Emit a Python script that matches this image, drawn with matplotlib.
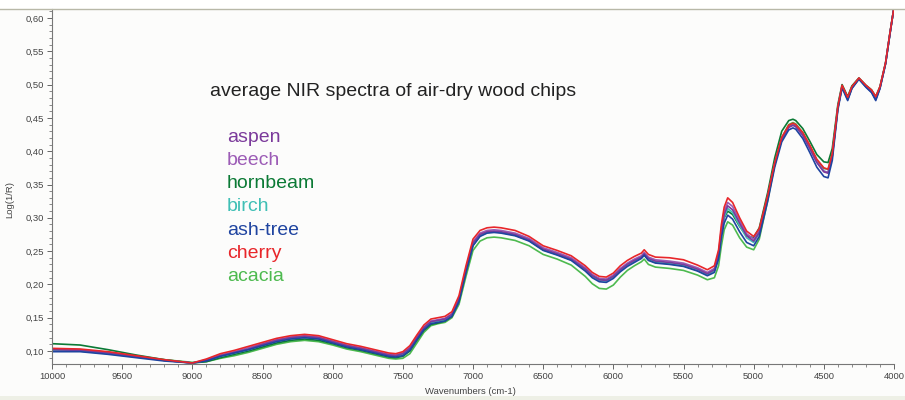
import matplotlib
matplotlib.use("Agg")
import matplotlib.pyplot as plt
from matplotlib.ticker import MultipleLocator, FuncFormatter
from matplotlib.lines import Line2D

# wavenumber grid (cm-1), shared by all spectra
wavenumbers = [10000, 9800, 9600, 9400, 9200, 9000, 8900, 8800, 8700, 8600,
               8500, 8400, 8300, 8200, 8100, 8000, 7900, 7850, 7800, 7700,
               7600, 7550, 7500, 7450, 7400, 7350, 7300, 7250, 7200, 7150,
               7100, 7050, 7000, 6950, 6900, 6850, 6800, 6700, 6600, 6500,
               6400, 6300, 6200, 6150, 6100, 6050, 6000, 5950, 5900, 5850,
               5800, 5780, 5750, 5700, 5600, 5500, 5400, 5330, 5280, 5250,
               5230, 5210, 5185, 5150, 5100, 5050, 5000, 4960, 4900, 4850,
               4800, 4750, 4720, 4700, 4650, 4600, 4550, 4500, 4470, 4440,
               4400, 4370, 4330, 4300, 4250, 4200, 4160, 4130, 4100, 4060,
               4030, 4000]

aspen = [0.102, 0.101, 0.097, 0.092, 0.086, 0.082, 0.086, 0.093, 0.098, 0.103,
         0.110, 0.116, 0.120, 0.122, 0.120, 0.114, 0.108, 0.106, 0.104, 0.099,
         0.094, 0.093, 0.096, 0.104, 0.120, 0.135, 0.144, 0.146, 0.148, 0.155,
         0.178, 0.222, 0.262, 0.275, 0.279, 0.280, 0.279, 0.275, 0.267, 0.253,
         0.246, 0.238, 0.223, 0.213, 0.207, 0.206, 0.212, 0.222, 0.230, 0.236,
         0.241, 0.246, 0.239, 0.235, 0.233, 0.230, 0.223, 0.216, 0.222, 0.245,
         0.280, 0.305, 0.318, 0.312, 0.292, 0.273, 0.265, 0.278, 0.330, 0.380,
         0.418, 0.436, 0.439, 0.437, 0.424, 0.404, 0.383, 0.369, 0.367, 0.392,
         0.465, 0.497, 0.478, 0.495, 0.509, 0.497, 0.489, 0.478, 0.495, 0.532,
         0.575, 0.616]

beech = [0.103, 0.102, 0.098, 0.092, 0.086, 0.082, 0.087, 0.094, 0.099, 0.105,
         0.111, 0.117, 0.121, 0.123, 0.121, 0.115, 0.109, 0.107, 0.105, 0.100,
         0.095, 0.094, 0.097, 0.105, 0.121, 0.136, 0.145, 0.147, 0.149, 0.156,
         0.179, 0.224, 0.264, 0.277, 0.281, 0.282, 0.281, 0.277, 0.269, 0.255,
         0.248, 0.240, 0.225, 0.215, 0.209, 0.208, 0.214, 0.224, 0.232, 0.238,
         0.243, 0.248, 0.241, 0.237, 0.235, 0.232, 0.225, 0.218, 0.224, 0.248,
         0.284, 0.310, 0.323, 0.317, 0.296, 0.276, 0.268, 0.280, 0.331, 0.381,
         0.418, 0.436, 0.439, 0.437, 0.424, 0.405, 0.384, 0.370, 0.368, 0.393,
         0.465, 0.497, 0.478, 0.495, 0.509, 0.497, 0.489, 0.478, 0.495, 0.532,
         0.575, 0.616]

hornbeam = [0.111, 0.109, 0.102, 0.094, 0.087, 0.082, 0.084, 0.090, 0.095, 0.100,
            0.106, 0.112, 0.116, 0.118, 0.116, 0.111, 0.105, 0.103, 0.101, 0.096,
            0.091, 0.090, 0.092, 0.100, 0.116, 0.131, 0.140, 0.142, 0.145, 0.152,
            0.175, 0.219, 0.259, 0.273, 0.278, 0.279, 0.278, 0.274, 0.266, 0.252,
            0.245, 0.237, 0.223, 0.213, 0.208, 0.207, 0.213, 0.223, 0.230, 0.235,
            0.240, 0.244, 0.237, 0.233, 0.231, 0.228, 0.221, 0.215, 0.221, 0.243,
            0.277, 0.300, 0.310, 0.305, 0.287, 0.273, 0.270, 0.285, 0.338, 0.390,
            0.430, 0.446, 0.448, 0.446, 0.434, 0.415, 0.395, 0.384, 0.383, 0.404,
            0.470, 0.500, 0.482, 0.498, 0.510, 0.499, 0.492, 0.482, 0.497, 0.533,
            0.576, 0.616]

birch = [0.101, 0.100, 0.096, 0.091, 0.086, 0.082, 0.086, 0.092, 0.097, 0.102,
         0.109, 0.115, 0.119, 0.121, 0.119, 0.113, 0.107, 0.105, 0.103, 0.098,
         0.093, 0.092, 0.095, 0.103, 0.119, 0.134, 0.143, 0.145, 0.147, 0.154,
         0.177, 0.221, 0.260, 0.274, 0.278, 0.279, 0.278, 0.274, 0.266, 0.252,
         0.245, 0.237, 0.222, 0.212, 0.206, 0.205, 0.211, 0.221, 0.229, 0.235,
         0.240, 0.245, 0.238, 0.234, 0.232, 0.229, 0.222, 0.215, 0.221, 0.243,
         0.277, 0.301, 0.314, 0.308, 0.288, 0.270, 0.263, 0.277, 0.330, 0.381,
         0.419, 0.437, 0.440, 0.438, 0.425, 0.405, 0.384, 0.370, 0.368, 0.393,
         0.465, 0.497, 0.478, 0.495, 0.509, 0.497, 0.489, 0.478, 0.495, 0.532,
         0.575, 0.616]

ash_tree = [0.099, 0.099, 0.095, 0.090, 0.085, 0.082, 0.085, 0.092, 0.097, 0.102,
            0.108, 0.114, 0.118, 0.120, 0.118, 0.112, 0.106, 0.104, 0.102, 0.097,
            0.092, 0.091, 0.093, 0.101, 0.117, 0.132, 0.141, 0.143, 0.145, 0.152,
            0.174, 0.218, 0.258, 0.272, 0.277, 0.278, 0.277, 0.273, 0.265, 0.251,
            0.244, 0.236, 0.220, 0.210, 0.204, 0.203, 0.209, 0.219, 0.227, 0.233,
            0.239, 0.244, 0.236, 0.232, 0.230, 0.227, 0.220, 0.213, 0.218, 0.238,
            0.270, 0.292, 0.304, 0.298, 0.279, 0.263, 0.258, 0.272, 0.325, 0.376,
            0.414, 0.432, 0.435, 0.433, 0.419, 0.398, 0.376, 0.362, 0.360, 0.386,
            0.462, 0.495, 0.476, 0.494, 0.508, 0.496, 0.488, 0.476, 0.494, 0.531,
            0.574, 0.616]

cherry = [0.104, 0.103, 0.099, 0.093, 0.087, 0.082, 0.088, 0.096, 0.101, 0.107,
          0.113, 0.119, 0.123, 0.125, 0.123, 0.117, 0.111, 0.109, 0.107, 0.102,
          0.097, 0.096, 0.099, 0.108, 0.124, 0.139, 0.148, 0.150, 0.152, 0.159,
          0.183, 0.228, 0.268, 0.281, 0.285, 0.286, 0.285, 0.281, 0.272, 0.258,
          0.251, 0.243, 0.228, 0.218, 0.212, 0.211, 0.217, 0.228, 0.236, 0.242,
          0.247, 0.252, 0.245, 0.241, 0.240, 0.237, 0.229, 0.222, 0.228, 0.252,
          0.290, 0.316, 0.330, 0.323, 0.300, 0.280, 0.272, 0.284, 0.334, 0.383,
          0.421, 0.439, 0.442, 0.440, 0.428, 0.409, 0.388, 0.375, 0.373, 0.396,
          0.467, 0.499, 0.481, 0.497, 0.510, 0.499, 0.492, 0.482, 0.497, 0.533,
          0.576, 0.616]

acacia = [0.100, 0.100, 0.097, 0.092, 0.087, 0.083, 0.084, 0.089, 0.093, 0.098,
          0.104, 0.110, 0.114, 0.116, 0.114, 0.109, 0.103, 0.101, 0.099, 0.094,
          0.089, 0.088, 0.089, 0.096, 0.112, 0.128, 0.138, 0.141, 0.143, 0.150,
          0.170, 0.212, 0.251, 0.265, 0.270, 0.271, 0.270, 0.266, 0.258, 0.245,
          0.238, 0.229, 0.212, 0.201, 0.194, 0.193, 0.199, 0.211, 0.221, 0.228,
          0.234, 0.238, 0.230, 0.226, 0.224, 0.221, 0.214, 0.207, 0.210, 0.228,
          0.258, 0.282, 0.294, 0.289, 0.270, 0.256, 0.252, 0.268, 0.326, 0.380,
          0.420, 0.440, 0.443, 0.441, 0.428, 0.408, 0.386, 0.374, 0.373, 0.396,
          0.466, 0.497, 0.479, 0.496, 0.509, 0.498, 0.490, 0.479, 0.496, 0.532,
          0.575, 0.616]

species = ["aspen", "beech", "hornbeam", "birch", "ash-tree", "cherry", "acacia"]
spectra = [aspen, beech, hornbeam, birch, ash_tree, cherry, acacia]
colors = ["#7b3a9b", "#9c5cb6", "#0b7a35", "#3fbfb5", "#1f44a0", "#e8262a", "#4dba4f"]

# order in which the traces are drawn (cherry ends on top)
draw_order = [6, 2, 3, 1, 0, 4, 5]

W, H = 905, 400
fig = plt.figure(figsize=(W / 100, H / 100), dpi=100, facecolor="#fcfcfb")
ax = fig.add_axes([52 / W, 1 - 364 / H, (894 - 52) / W, (364 - 9) / H])
ax.set_facecolor("#fcfcfb")

for i in draw_order:
    ax.plot(wavenumbers, spectra[i], color=colors[i], lw=1.2, solid_joinstyle="round")

ax.set_xlim(10000, 4000)
ax.set_ylim(0.0805, 0.6135)

ax.xaxis.set_major_locator(MultipleLocator(500))
ax.xaxis.set_minor_locator(MultipleLocator(100))
ax.yaxis.set_major_locator(MultipleLocator(0.05))
ax.yaxis.set_minor_locator(MultipleLocator(0.01))
ax.yaxis.set_major_formatter(FuncFormatter(lambda v, p: f"{v:.2f}".replace(".", ",")))
ax.xaxis.set_major_formatter(FuncFormatter(lambda v, p: f"{v:.0f}"))

tick_font = "Liberation Sans"
for lab in ax.get_xticklabels() + ax.get_yticklabels():
    lab.set_family(tick_font)
ax.tick_params(axis="both", which="major", length=3.5, width=0.7, color="#666666",
               labelsize=6.8, labelcolor="#444444", pad=2)
ax.tick_params(axis="both", which="minor", length=2, width=0.6, color="#777777")

for side in ["top", "right"]:
    ax.spines[side].set_visible(False)
for side in ["left", "bottom"]:
    ax.spines[side].set_color("#777777")
    ax.spines[side].set_linewidth(0.8)

fig.text(470 / W, 1 - 391 / H, "Wavenumbers (cm-1)", ha="center", va="center",
         fontsize=6.8, color="#444444", family=tick_font)
fig.text(10 / W, 1 - 200 / H, "Log(1/R)", ha="center", va="center", rotation=90,
         fontsize=6.8, color="#444444", family=tick_font)

# white band above the frame line, pale strip along the bottom
fig.patches.append(plt.Rectangle((0, 1 - 9 / H), 1, 9 / H, transform=fig.transFigure,
                                 facecolor="#ffffff", edgecolor="none", zorder=-1))
fig.add_artist(Line2D([0, 1], [1 - 9 / H, 1 - 9 / H], transform=fig.transFigure,
                      color="#b8b8a8", lw=1.0))
fig.patches.append(plt.Rectangle((0, 0), 1, 4 / H, transform=fig.transFigure,
                                 facecolor="#eef0e6", edgecolor="none", zorder=-1))

fig.text(210 / W, 1 - 92 / H, "average NIR spectra of air-dry wood chips",
         ha="left", va="center", fontsize=14, color="#222222", family="Liberation Sans")

for k, name in enumerate(species):
    y = 137 + k * 23.3
    fig.text(227 / W, 1 - y / H, name, ha="left", va="center", fontsize=14,
             color=colors[k], family="Liberation Sans")

fig.savefig("out.png", dpi=100, facecolor=fig.get_facecolor())
